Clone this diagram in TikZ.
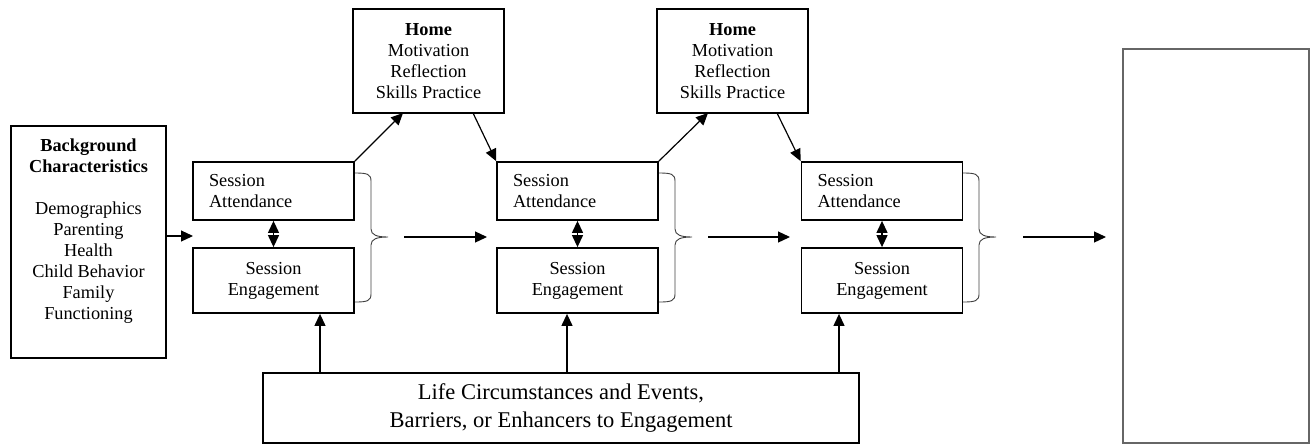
\documentclass[tikz,border=0pt]{standalone}
\usepackage{fontspec}
\setmainfont{Liberation Serif}
\usetikzlibrary{arrows.meta}
\begin{document}
\begin{tikzpicture}[x=1pt,y=-1pt,
 txt/.style={font=\fontsize{18.3}{21}\selectfont, align=center, inner sep=0pt},
 box/.style={draw, line width=1.8pt, inner sep=0pt, font=\fontsize{18.3}{21}\selectfont, align=center},
 attbox/.style={box, minimum height=58pt, text width=129pt, inner xsep=16pt, align=left},
 engbox/.style={box, minimum width=161pt, minimum height=65pt},
 homebox/.style={box, minimum width=151pt, minimum height=104pt},
 arr/.style={line width=1.2pt, -{Triangle[length=12pt,width=11pt]}},
 darr/.style={line width=1.2pt, {Triangle[length=12pt,width=11pt]}-{Triangle[length=12pt,width=11pt]}},
 brc/.style={line width=0.9pt, draw=black!75},
 curlybrace/.pic={
   \draw[brc] (0,0) .. controls (12,0) and (16,1) .. (16,8) -- (16,56)
      .. controls (16,62) and (22,64) .. (33,64)
      .. controls (22,64) and (16,66) .. (16,72) -- (16,121)
      .. controls (16,128) and (12,129) .. (0,129);
 },
]
\useasboundingbox (0,0) rectangle (1314,445);

% background
\node[box, minimum width=155pt, minimum height=232pt] (bg) at (88.5,242) {};
\node[txt] (bgt) at (88.5,231) {\textbf{Background}\\\textbf{Characteristics}\\[21pt]Demographics\\Parenting\\Health\\Child Behavior\\Family\\Functioning};

% session columns
\node[attbox] (a1) at (273.5,191) {Session\\Attendance};
\node[engbox] (e1) at (273.5,280.5) {Session\\Engagement};
\node[attbox] (a2) at (577.5,191) {Session\\Attendance};
\node[engbox] (e2) at (577.5,280.5) {Session\\Engagement};
\node[attbox] (a3) at (882,191) {Session\\Attendance};
\node[engbox] (e3) at (882,280.5) {Session\\Engagement};

% home boxes
\node[homebox] (h1) at (428.5,61) {\textbf{Home}\\Motivation\\Reflection\\Skills Practice};
\node[homebox] (h2) at (732.5,61) {\textbf{Home}\\Motivation\\Reflection\\Skills Practice};

% life box
\node[box, font=\fontsize{22.5}{28}\selectfont, minimum width=596pt, minimum height=70pt] (life) at (561,408) {Life Circumstances and Events,\\Barriers, or Enhancers to Engagement};

% outcome box
\node[draw=black!60, line width=1.3pt, minimum width=186pt, minimum height=394pt, inner sep=0pt] (out) at (1216,246) {};

% coordinates
\coordinate (c0) at (193,236);
\coordinate (s1) at (404,237);
\coordinate (t1) at (487,237);
\coordinate (s2) at (708,237);
\coordinate (t2) at (790,237);
\coordinate (s3) at (1023,237);
\coordinate (t3) at (1106,237);
\coordinate (h1in) at (403,113);
\coordinate (h1out) at (473,113);
\coordinate (h2in) at (708,113);
\coordinate (h2out) at (777,113);
\coordinate (l1) at (320,373);
\coordinate (l2) at (567,373);
\coordinate (l3) at (839,373);

% arrows
\draw[arr] (bg.east |- c0) -- (c0);
\draw[arr] (s1) -- (t1);
\draw[arr] (s2) -- (t2);
\draw[arr] (s3) -- (t3);
\draw[darr] (a1.south) -- (e1.north);
\draw[darr] (a2.south) -- (e2.north);
\draw[darr] (a3.south) -- (e3.north);
\draw[arr] (a1.north east) -- (h1in);
\draw[arr] (h1out) -- (a2.north west);
\draw[arr] (a2.north east) -- (h2in);
\draw[arr] (h2out) -- (a3.north west);
\draw[arr] (l1) -- (l1 |- e1.south);
\draw[arr] (l2) -- (l2 |- e2.south);
\draw[arr] (l3) -- (l3 |- e3.south);

% braces
\pic at (355,173) {curlybrace};
\pic at (659,173) {curlybrace};
\pic at (963,173) {curlybrace};
\end{tikzpicture}
\end{document}
